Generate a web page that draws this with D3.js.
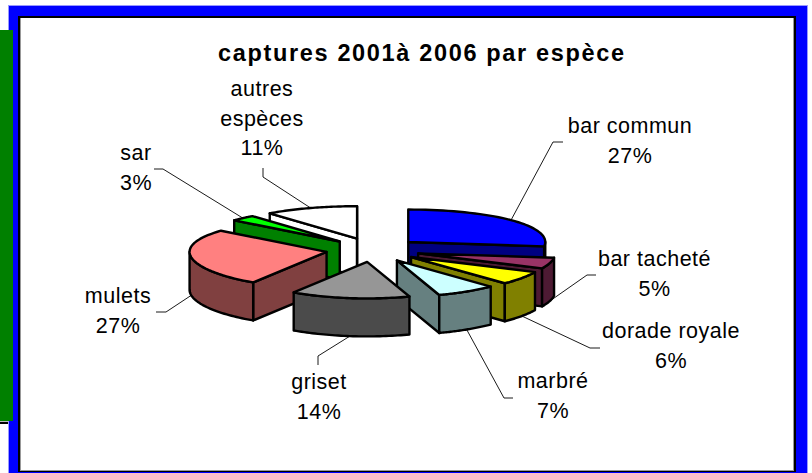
<!DOCTYPE html>
<html>
<head>
<meta charset="utf-8">
<script src="https://cdn.jsdelivr.net/npm/d3@7"></script>
<style>
html, body { margin: 0; padding: 0; background: #fff; }
svg { display: block; }
text { font-family: "Liberation Sans", Arial, sans-serif; fill: #000; }
</style>
</head>
<body>
<div id="chart"></div>
<script>
var titleText = "captures 2001à 2006 par espèce";
var species = ["bar commun", "bar tacheté", "dorade royale", "marbré", "griset", "mulets", "sar", "autres espèces"];
var shares = [27, 5, 6, 7, 14, 27, 3, 11];
var labelLines = [["bar commun", "27%"], ["bar tacheté", "5%"], ["dorade royale", "6%"], ["marbré", "7%"], ["griset", "14%"], ["mulets", "27%"], ["sar", "3%"], ["autres", "espèces", "11%"]];
var topColors = ["#0000ff", "#993366", "#ffff00", "#ccffff", "#969696", "#ff8080", "#00ff00", "#ffffff"];
var sideColors = ["#000080", "#4d1a33", "#808000", "#668080", "#4b4b4b", "#804040", "#008000", "#ffffff"];

// label centre x, first baseline y, then the elbow where the leader leaves the label
var labelLayout = [
    {x: 630, y: 133, elbow: [[563, 142], [553, 142]]},
    {x: 654.5, y: 266, elbow: [[596, 275], [587, 275]]},
    {x: 671, y: 338, elbow: [[600, 348], [590, 348]]},
    {x: 553, y: 388, elbow: [[513, 398], [504, 398]]},
    {x: 319, y: 389, elbow: [[318, 365], [318, 356]]},
    {x: 118, y: 303, elbow: [[156, 312], [166, 312]]},
    {x: 136, y: 160, elbow: [[154, 169], [163, 169]]},
    {x: 262, y: 96, elbow: [[263, 168], [263, 177]]}
];
// painter's order, back of the pie first
var drawOrder = [7, 0, 6, 5, 1, 2, 3, 4];

var width = 812, height = 473;
var cx = 373, cy = 250;
var explodeX = 47, explodeY = 12;
var rx = 137, depth = 38;
var lineGap = 29.5;

var svg = d3.select("#chart").append("svg")
    .attr("width", width)
    .attr("height", height);

// page behind the chart
svg.append("rect").attr("x", 0).attr("y", 422).attr("width", 9).attr("height", 2).attr("fill", "#000");
svg.append("rect").attr("x", 0).attr("y", 420).attr("width", 9).attr("height", 2).attr("fill", "#bbb");

// frame
svg.append("rect").attr("x", 8).attr("y", 5).attr("width", 800).attr("height", 468).attr("fill", "#9999ff");
svg.append("rect").attr("x", 9).attr("y", 6).attr("width", 798).attr("height", 467).attr("fill", "#0000ff");
svg.append("rect").attr("x", 18).attr("y", 16).attr("width", 778).attr("height", 456).attr("fill", "#000");
svg.append("rect").attr("x", 20).attr("y", 18).attr("width", 774).attr("height", 453).attr("fill", "#999");
svg.append("rect").attr("x", 21).attr("y", 18).attr("width", 772).attr("height", 452).attr("fill", "#fff");

svg.append("rect").attr("x", 0).attr("y", 30).attr("width", 13).attr("height", 391).attr("fill", "#008000");

svg.append("text")
    .attr("x", 421)
    .attr("y", 61)
    .attr("text-anchor", "middle")
    .attr("font-size", 23.5)
    .attr("font-weight", "bold")
    .attr("textLength", 406)
    .text(titleText);

var slices = d3.pie().sort(null).startAngle(0).endAngle(2 * Math.PI)(shares);

// angle runs clockwise from 12 o'clock, the front of the pie is a little deeper than the back
function ry(a) { return 34.5 - 2 * Math.cos(a); }

function apex(d) {
    var mid = (d.startAngle + d.endAngle) / 2;
    return [cx + explodeX * Math.sin(mid), cy - explodeY * Math.cos(mid)];
}

function rimPoint(d, a) {
    var c = apex(d);
    return [c[0] + rx * Math.sin(a), c[1] - ry(a) * Math.cos(a)];
}

function rimPoints(d, a0, a1) {
    return d3.range(0, 41).map(function(i) {
        return rimPoint(d, a0 + (a1 - a0) * i / 40);
    });
}

function down(p) { return [p[0], p[1] + depth]; }

var line = d3.line();

function addShape(g, pts, fill) {
    g.append("path")
        .attr("d", line(pts) + "Z")
        .attr("fill", fill)
        .attr("stroke", "#000")
        .attr("stroke-width", 2.4)
        .attr("stroke-linejoin", "round");
}

function addWall(g, d, a, fill) {
    var c = apex(d), p = rimPoint(d, a);
    addShape(g, [c, p, down(p), down(c)], fill);
}

var pie = svg.append("g");

drawOrder.forEach(function(i) {
    var d = slices[i], g = pie.append("g");

    // only the cut faces turned towards the viewer
    if (Math.sin(d.startAngle) < -1e-6) addWall(g, d, d.startAngle, sideColors[i]);
    if (Math.sin(d.endAngle) > -1e-6) addWall(g, d, d.endAngle, sideColors[i]);

    // outer wall only shows on the front half
    var a0 = Math.max(d.startAngle, Math.PI / 2), a1 = Math.min(d.endAngle, 3 * Math.PI / 2);
    if (a1 > a0) {
        var rim = rimPoints(d, a0, a1);
        addShape(g, rim.concat(rim.slice().reverse().map(down)), sideColors[i]);
    }

    addShape(g, [apex(d)].concat(rimPoints(d, d.startAngle, d.endAngle)), topColors[i]);
});

// leader lines, drawn from the rim at the middle of each slice
var leaders = svg.append("g");
slices.forEach(function(d, i) {
    var mid = (d.startAngle + d.endAngle) / 2;
    var p = rimPoint(d, mid);
    if (Math.cos(mid) < 0) p = down(p);
    leaders.append("path")
        .attr("d", line(labelLayout[i].elbow.concat([p])))
        .attr("fill", "none")
        .attr("stroke", "#000")
        .attr("stroke-width", 0.9);
});

var labels = svg.append("g");
labelLines.forEach(function(lines, i) {
    lines.forEach(function(t, j) {
        labels.append("text")
            .attr("x", labelLayout[i].x)
            .attr("y", labelLayout[i].y + j * lineGap)
            .attr("text-anchor", "middle")
            .attr("font-size", 21.5)
            .attr("letter-spacing", 0.5)
            .text(t);
    });
});
</script>
</body>
</html>
